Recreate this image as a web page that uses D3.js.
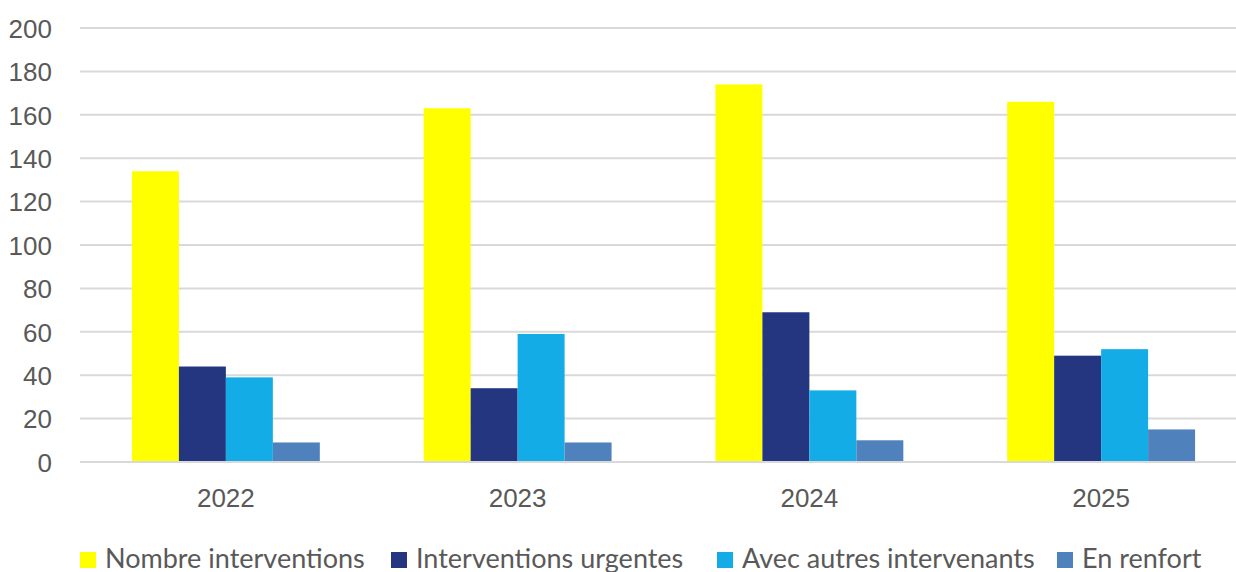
<!DOCTYPE html>
<html lang="fr">
<head>
    <meta charset="utf-8">
    <title>Interventions</title>
    <script src="https://cdn.jsdelivr.net/npm/d3@7"></script>
    <style type="text/css">
        body {
            margin: 0;
            background: #fff;
            font-family: Lato, "Liberation Sans", sans-serif;
        }
        .grid line {
            stroke: #d9d9d9;
            stroke-width: 2px;
        }
        .axis text {
            fill: #595959;
            font-size: 26px;
        }
        .legend text {
            fill: #595959;
            font-size: 27px;
        }
    </style>
</head>
<body>
<svg></svg>
<script type="text/javascript">
    // data
    var years = ["2022", "2023", "2024", "2025"];
    var seriesNames = ["Nombre interventions", "Interventions urgentes", "Avec autres intervenants", "En renfort"];
    var nombre = [134, 163, 174, 166];
    var urgentes = [44, 34, 69, 49];
    var autres = [39, 59, 33, 52];
    var renfort = [9, 9, 10, 15];
    var yTicks = [0, 20, 40, 60, 80, 100, 120, 140, 160, 180, 200];

    var colors = ["#ffff00", "#243680", "#13ace6", "#4f81bd"];
    var seriesValues = [nombre, urgentes, autres, renfort];

    var width = 1236, height = 572;
    var plot = {left: 80, right: 1247, top: 28, bottom: 462};

    var svg = d3.select("svg")
        .attr("width", width)
        .attr("height", height);

    var x0 = d3.scaleBand()
        .domain(years)
        .range([plot.left, plot.right])
        .paddingInner(0.356)
        .paddingOuter(0.178);

    var x1 = d3.scaleBand()
        .domain(seriesNames)
        .range([0, x0.bandwidth()]);

    var y = d3.scaleLinear()
        .domain([0, 200])
        .range([plot.bottom, plot.top]);

    // gridlines
    svg.append("g")
        .attr("class", "grid")
        .selectAll("line")
        .data(yTicks)
        .enter().append("line")
        .attr("x1", plot.left)
        .attr("x2", plot.right)
        .attr("y1", function (d) { return y(d); })
        .attr("y2", function (d) { return y(d); });

    // y axis labels
    var yAxis = svg.append("g")
        .attr("class", "axis")
        .attr("transform", "translate(" + plot.left + ",0)")
        .call(d3.axisLeft(y).tickValues(yTicks).tickSize(0).tickPadding(28));
    yAxis.select(".domain").remove();
    yAxis.selectAll("text").attr("dy", "0.36em");

    // bars
    var table = [];
    years.forEach(function (yr, i) {
        seriesNames.forEach(function (s, j) {
            table.push({year: yr, series: s, value: seriesValues[j][i], color: colors[j]});
        });
    });

    svg.append("g")
        .selectAll("rect")
        .data(table)
        .enter().append("rect")
        .attr("x", function (d) { return x0(d.year) + x1(d.series); })
        .attr("width", x1.bandwidth())
        .attr("y", function (d) { return y(d.value); })
        .attr("height", function (d) { return y(0) - y(d.value); })
        .attr("fill", function (d) { return d.color; });

    // baseline drawn over bars
    svg.append("line")
        .attr("x1", plot.left)
        .attr("x2", plot.right)
        .attr("y1", y(0))
        .attr("y2", y(0))
        .attr("stroke", "#d9d9d9")
        .attr("stroke-width", 2);

    // x axis labels
    var xAxis = svg.append("g")
        .attr("class", "axis")
        .attr("transform", "translate(0," + plot.bottom + ")")
        .call(d3.axisBottom(x0).tickSize(0).tickPadding(27));
    xAxis.select(".domain").remove();

    // legend
    var legendX = [80, 391, 717, 1057];
    var legend = svg.append("g")
        .attr("class", "legend")
        .selectAll("g")
        .data(seriesNames)
        .enter().append("g")
        .attr("transform", function (d, i) { return "translate(" + legendX[i] + ",552)"; });

    legend.append("rect")
        .attr("width", 16)
        .attr("height", 16)
        .attr("fill", function (d, i) { return colors[i]; });

    legend.append("text")
        .attr("x", 25)
        .attr("y", 16)
        .text(function (d) { return d; });
</script>
</body>
</html>
